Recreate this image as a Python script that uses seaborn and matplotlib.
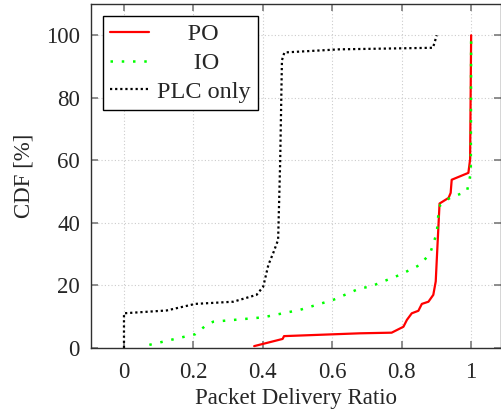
import pandas as pd
import seaborn as sns
import matplotlib.pyplot as plt

# CDF curves (x = packet delivery ratio, y = CDF in %)
po_x = [0.375, 0.457, 0.461, 0.68, 0.771, 0.805, 0.815, 0.829, 0.848, 0.858, 0.877,
        0.891, 0.898, 0.901, 0.909, 0.935, 0.941, 0.944, 0.992, 0.997, 1.0]
po_y = [0.6, 2.9, 3.8, 4.7, 4.9, 6.8, 9.0, 11.1, 11.9, 14.1, 14.8,
        17.0, 21.3, 28.2, 46.2, 48.0, 49.6, 53.8, 56.0, 60.3, 100.0]

io_x = [0.073, 0.205, 0.238, 0.257, 0.40, 0.507, 0.603, 0.68, 0.709, 0.795, 0.853,
        0.882, 0.901, 0.906, 0.911, 0.939, 0.988, 0.999, 1.0]
io_y = [1.0, 4.4, 7.4, 8.4, 9.8, 12.2, 15.4, 19.1, 19.6, 23.4, 26.6,
        30.3, 36.8, 43.2, 45.8, 48.0, 50.1, 56.0, 100.0]

plc_x = [0.0, 0.0, 0.123, 0.205, 0.315, 0.382, 0.401, 0.416, 0.43, 0.444, 0.450,
         0.455, 0.462, 0.62, 0.89, 0.901]
plc_y = [0.0, 11.1, 12.0, 14.1, 14.8, 17.0, 19.6, 26.6, 30.4, 34.6, 60.0,
         92.0, 94.5, 95.5, 96.0, 100.0]

labels = ['PO', 'IO', 'PLC only']
# leading spaces roughly centre the shorter entries like the original legend
legend_pad = ['     ', '      ', '']

sns.set_theme(style="ticks")
plt.rcParams['font.family'] = ['Liberation Serif', 'DejaVu Serif']

fig = plt.figure(figsize=(5.02, 4.16), dpi=100)
ax = fig.add_axes([91 / 502, 68 / 416, 410 / 502, 344 / 416])

sns.lineplot(x=po_x, y=po_y, ax=ax, color='#ff0000', linewidth=1.6,
             sort=False, estimator=None, label=legend_pad[0] + labels[0])
sns.lineplot(x=io_x, y=io_y, ax=ax, color='#00ff00', linewidth=1.8,
             linestyle=(0, (1, 3.5)), sort=False, estimator=None,
             label=legend_pad[1] + labels[1])
sns.lineplot(x=plc_x, y=plc_y, ax=ax, color='black', linewidth=1.6,
             linestyle=(0, (1, 1.3)), sort=False, estimator=None,
             label=legend_pad[2] + labels[2])

ax.set_xlim(-0.095, 1.086)
ax.set_ylim(0, 110)
ax.set_xticks([0, 0.2, 0.4, 0.6, 0.8, 1])
ax.set_xticklabels(['0', '0.2', '0.4', '0.6', '0.8', '1'])
ax.set_yticks([0, 20, 40, 60, 80, 100])
ax.grid(True, color='#cccccc', linestyle=(0, (1, 2)), linewidth=0.8)
ax.tick_params(direction='in', length=5, color='#808080', labelsize=16.5,
               top=True, right=True, pad=8)
ax.tick_params(axis='x', pad=10)
for s in ax.spines.values():
    s.set_color('#303030')
    s.set_linewidth(1.0)

ax.set_xlabel('Packet Delivery Ratio', fontsize=16.5, labelpad=4)
ax.set_ylabel('CDF [%]', fontsize=16.5, labelpad=8)

leg = ax.legend(loc='upper left', fontsize=17.5, frameon=True, fancybox=False,
                edgecolor='black', framealpha=1, handlelength=1.6,
                handletextpad=0.3, borderaxespad=0.5, labelspacing=0.27,
                borderpad=0.3)
leg.get_frame().set_linewidth(1.0)

plt.savefig('out.png', dpi=100)
